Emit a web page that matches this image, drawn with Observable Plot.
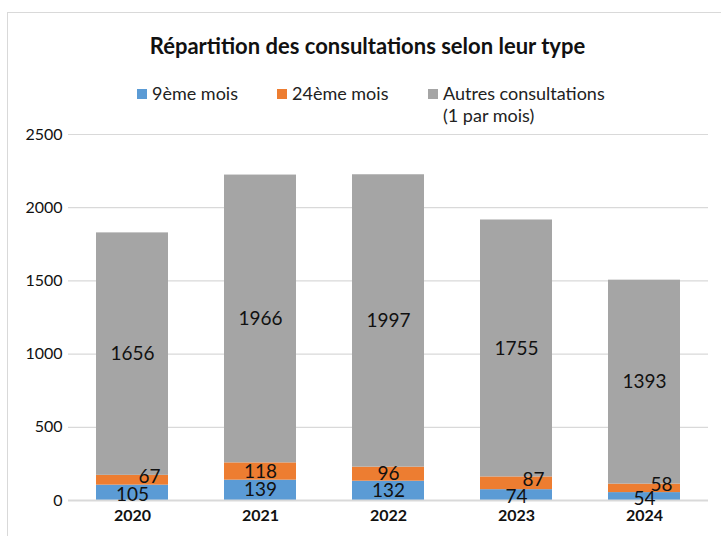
<!DOCTYPE html>
<html>
<head>
<meta charset="utf-8">
<script src="https://cdn.jsdelivr.net/npm/d3@7"></script>
<script src="https://cdn.jsdelivr.net/npm/@observablehq/plot@0.6"></script>
<style>
  body { margin: 0; background: #fff; font-family: Lato, "Open Sans", sans-serif; }
  #wrap { position: relative; width: 721px; height: 536px; overflow: hidden; }
  #frame { position: absolute; left: 7px; top: 12px; width: 730px; height: 560px; border: 1.5px solid #d9d9d9; box-sizing: border-box; }
  #title { position: absolute; left: 0; width: 735px; top: 32px; text-align: center; font-weight: bold; font-size: 22px; color: #111; }
  .leg { position: absolute; font-size: 18px; color: #222; line-height: 22px; }
  .sw { position: absolute; width: 10px; height: 10px; }
  #chart { position: absolute; left: 0; top: 110px; }
</style>
</head>
<body>
<div id="wrap">
  <div id="frame"></div>
  <div id="title">Répartition des consultations selon leur type</div>
  <div id="legend"></div>
  <div id="chart"></div>
</div>
<script>
const years = ["2020", "2021", "2022", "2023", "2024"];
const seriesNames = ["9ème mois", "24ème mois", "Autres consultations (1 par mois)"];
const legendLabels = ["9ème mois", "24ème mois", "Autres consultations<br>(1 par mois)"];
const colors = ["#5B9BD5", "#ED7D31", "#A5A5A5"];
const neuviemeMois = [105, 139, 132, 74, 54];
const vingtQuatriemeMois = [67, 118, 96, 87, 58];
const autres = [1656, 1966, 1997, 1755, 1393];
const yTicks = [0, 500, 1000, 1500, 2000, 2500];

// Legend (HTML)
const legendPos = [137, 277, 428];
const legend = document.getElementById("legend");
legendLabels.forEach((lab, i) => {
  const sw = document.createElement("div");
  sw.className = "sw";
  sw.style.left = legendPos[i] + "px";
  sw.style.top = "89px";
  sw.style.background = colors[i];
  legend.appendChild(sw);
  const t = document.createElement("div");
  t.className = "leg";
  t.style.left = (legendPos[i] + 15) + "px";
  t.style.top = "82px";
  t.innerHTML = lab;
  legend.appendChild(t);
});

// Stacked rows
const valuesBySeries = [neuviemeMois, vingtQuatriemeMois, autres];
const rows = [];
years.forEach((yr, j) => {
  let base = 0;
  valuesBySeries.forEach((vals, i) => {
    const v = vals[j];
    rows.push({year: yr, series: seriesNames[i], value: v, y1: base, y2: base + v, mid: base + v / 2, idx: i, j});
    base += v;
  });
});

// label groups: when blue & orange labels would collide, shift orange right
const crowded = new Set(years.filter((yr, j) => {
  const b = rows.find(r => r.year === yr && r.idx === 0);
  const o = rows.find(r => r.year === yr && r.idx === 1);
  return (o.mid - b.mid) < 100;
}));
const centered = rows.filter(r => r.idx === 2 || !crowded.has(r.year));
const shiftedOrange = rows.filter(r => r.idx === 1 && crowded.has(r.year));
const shiftedBlue = rows.filter(r => r.idx === 0 && crowded.has(r.year));

const plot = Plot.plot({
  width: 721,
  height: 426,
  marginLeft: 68,
  marginRight: 13,
  marginTop: 24,
  marginBottom: 36,
  style: {fontFamily: "Lato, 'Open Sans', sans-serif", background: "transparent"},
  x: {domain: years, paddingInner: 0.436, paddingOuter: 0.218, label: null, tickSize: 0, tickPadding: 8},
  y: {domain: [0, 2500], ticks: yTicks, label: null, tickSize: 0},
  color: {domain: seriesNames, range: colors},
  marks: [
    Plot.ruleY(yTicks.filter(d => d > 0), {stroke: "#d9d9d9", strokeWidth: 1.2}),
    Plot.barY(rows, {x: "year", y1: "y1", y2: "y2", fill: "series"}),
    Plot.ruleY([0], {stroke: "#d9d9d9", strokeWidth: 2}),
    Plot.axisY({ticks: yTicks, tickSize: 0, tickPadding: 6, fontSize: 16, fill: "#111", tickFormat: d => String(d)}),
    Plot.axisX({tickSize: 0, tickPadding: 9, fontSize: 16, fontWeight: "bold", fill: "#111"}),
    Plot.text(centered, {x: "year", y: "mid", text: d => String(d.value), fontSize: 19, fill: "#111"}),
    Plot.text(shiftedOrange, {x: "year", y: "mid", text: d => String(d.value), fontSize: 19, fill: "#111", dx: 17, dy: -3}),
    Plot.text(shiftedBlue, {x: "year", y: "mid", text: d => String(d.value), fontSize: 19, fill: "#111", dy: 2})
  ]
});
document.getElementById("chart").appendChild(plot);
</script>
</body>
</html>
